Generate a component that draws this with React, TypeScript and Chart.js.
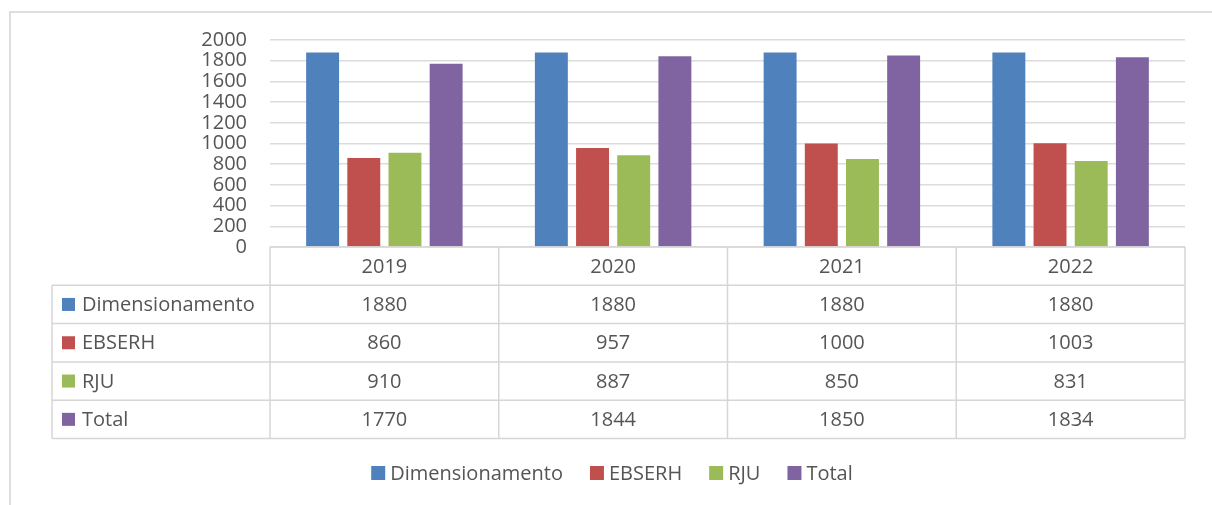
import React, { useEffect, useRef } from "react";
import { Chart, registerables } from "chart.js";

Chart.register(...registerables);

const categories = ["2019", "2020", "2021", "2022"];
const seriesNames = ["Dimensionamento", "EBSERH", "RJU", "Total"];
const dimensionamento = [1880, 1880, 1880, 1880];
const ebserh = [860, 957, 1000, 1003];
const rju = [910, 887, 850, 831];
const total = [1770, 1844, 1850, 1834];
const seriesColors = ["#4F81BD", "#C0504D", "#9BBB59", "#8064A2"];
const yMin = 0;
const yMax = 2000;
const yStep = 200;

const FONT = '"Open Sans", "DejaVu Sans", sans-serif';
const TEXT = "#555555";
const LINE = "#d6d6d6";

const seriesValues = [dimensionamento, ebserh, rju, total];

const tablePlugin = {
  id: "dataTableAndLegend",
  beforeDraw(chart: any) {
    const ctx = chart.ctx;
    ctx.save();
    ctx.fillStyle = "#ffffff";
    ctx.fillRect(0, 0, chart.width, chart.height);
    ctx.strokeStyle = "#dedede";
    ctx.lineWidth = 2;
    ctx.beginPath();
    ctx.moveTo(10, chart.height);
    ctx.lineTo(10, 12);
    ctx.lineTo(chart.width, 12);
    ctx.stroke();
    ctx.restore();
  },
  afterDraw(chart: any) {
    const ctx = chart.ctx;
    const xs = chart.scales.x;
    const area = chart.chartArea;
    const n = categories.length;
    const colW = (area.right - area.left) / n;
    const top = area.bottom;
    const rowH = 38.3;
    const leftX = 52;
    const edges: number[] = [];
    for (let i = 0; i < n; i++) edges.push(xs.getPixelForValue(i) - colW / 2);
    edges.push(xs.getPixelForValue(n - 1) + colW / 2);
    const rows = seriesNames.length;
    const bottom = top + rowH * (rows + 1);

    ctx.save();
    ctx.strokeStyle = LINE;
    ctx.lineWidth = 1.5;
    ctx.beginPath();
    ctx.moveTo(edges[0], top);
    ctx.lineTo(edges[n], top);
    for (let r = 1; r <= rows + 1; r++) {
      const y = top + rowH * r;
      ctx.moveTo(leftX, y);
      ctx.lineTo(edges[n], y);
    }
    for (let i = 0; i <= n; i++) {
      ctx.moveTo(edges[i], top);
      ctx.lineTo(edges[i], bottom);
    }
    ctx.moveTo(leftX, top + rowH);
    ctx.lineTo(leftX, bottom);
    ctx.stroke();

    ctx.font = `20px ${FONT}`;
    ctx.fillStyle = TEXT;
    ctx.textBaseline = "middle";
    ctx.textAlign = "center";
    for (let i = 0; i < n; i++) {
      const cx = xs.getPixelForValue(i);
      ctx.fillText(categories[i], cx, top + rowH / 2 + 1);
      for (let r = 0; r < rows; r++) {
        ctx.fillText(String(seriesValues[r][i]), cx, top + rowH * (r + 1) + rowH / 2 + 1);
      }
    }
    ctx.textAlign = "left";
    for (let r = 0; r < rows; r++) {
      const cy = top + rowH * (r + 1) + rowH / 2;
      ctx.fillStyle = seriesColors[r];
      ctx.fillRect(leftX + 10, cy - 6.5, 13, 13);
      ctx.fillStyle = TEXT;
      ctx.fillText(seriesNames[r], leftX + 30, cy + 1);
    }

    const box = 14;
    const gapText = 5;
    const gapItem = 27;
    const widths = seriesNames.map((s) => ctx.measureText(s).width);
    let totalW = 0;
    widths.forEach((w, i) => {
      totalW += box + gapText + w + (i < widths.length - 1 ? gapItem : 0);
    });
    let x = 612 - totalW / 2;
    const ly = 473;
    for (let i = 0; i < seriesNames.length; i++) {
      ctx.fillStyle = seriesColors[i];
      ctx.fillRect(x, ly - box / 2, box, box);
      ctx.fillStyle = TEXT;
      ctx.fillText(seriesNames[i], x + box + gapText, ly + 1);
      x += box + gapText + widths[i] + gapItem;
    }
    ctx.restore();
  },
};

export default function App() {
  const ref = useRef<HTMLCanvasElement | null>(null);

  useEffect(() => {
    if (!ref.current) return;
    const chart = new Chart(ref.current, {
      type: "bar",
      data: {
        labels: categories,
        datasets: seriesNames.map((name, i) => ({
          label: name,
          data: seriesValues[i],
          backgroundColor: seriesColors[i],
          borderWidth: 0,
          categoryPercentage: 0.72,
          barPercentage: 0.8,
        })),
      },
      options: {
        animation: false,
        responsive: false,
        devicePixelRatio: 1,
        events: [],
        layout: { padding: { left: 0, top: 40, right: 27, bottom: 258 } },
        plugins: {
          legend: { display: false },
          tooltip: { enabled: false },
          title: { display: false },
        },
        scales: {
          x: { display: false },
          y: {
            min: yMin,
            max: yMax,
            afterFit: (s: any) => {
              s.width = 270;
            },
            border: { display: false },
            grid: { color: "#dcdcdc", lineWidth: 1.5, drawTicks: false },
            ticks: {
              stepSize: yStep,
              autoSkip: false,
              padding: 23,
              color: TEXT,
              font: { family: FONT, size: 20, lineHeight: 1 },
              callback: (v: any) => String(v),
            },
          },
        },
      },
      plugins: [tablePlugin],
    });
    return () => chart.destroy();
  }, []);

  return (
    <div style={{ position: "fixed", left: 0, top: 0, width: 1212, height: 505, background: "#fff" }}>
      <canvas ref={ref} width={1212} height={505} style={{ display: "block" }} />
    </div>
  );
}
